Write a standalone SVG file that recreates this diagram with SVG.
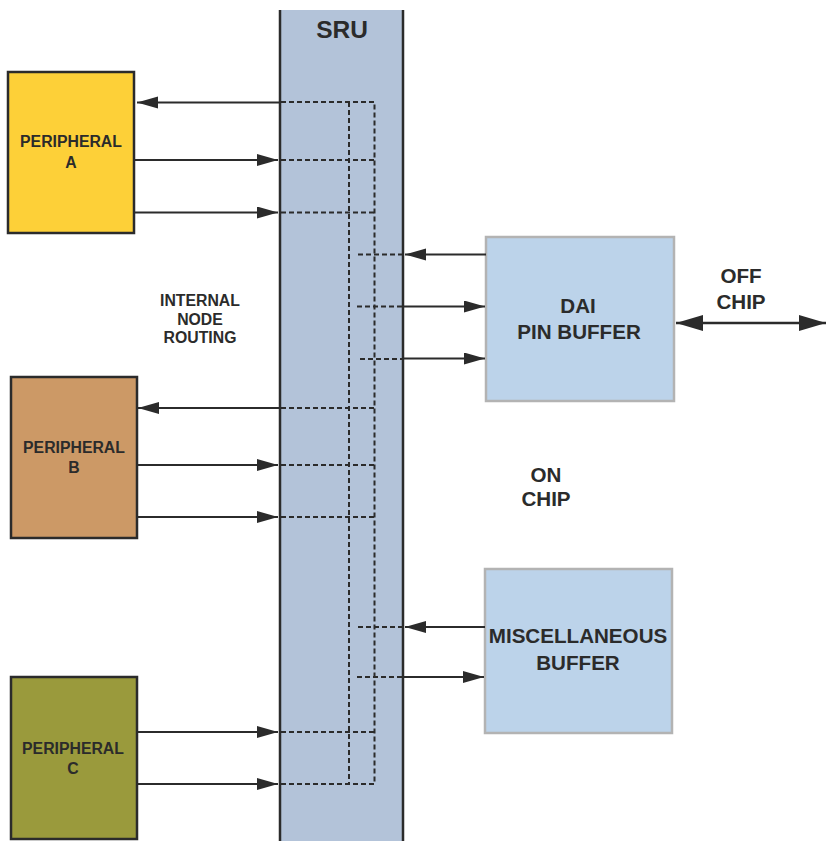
<svg xmlns="http://www.w3.org/2000/svg" width="826" height="841" viewBox="0 0 826 841">
<style>
text{font-family:"Liberation Sans",Arial,sans-serif;font-weight:bold;fill:#2b2b2b;text-anchor:middle}
.pl{font-size:15.8px}
.bl{font-size:20.6px}
.ar{stroke:#2b2b2b;stroke-width:2;fill:none;marker-end:url(#ah)}
.ds{stroke:#2b2b2b;stroke-width:2;fill:none;stroke-dasharray:5 3}
.pbox{stroke:#2b2b2b;stroke-width:2.5}
.bbox{fill:#bcd3ea;stroke:#b3b3b3;stroke-width:2.5}
</style>
<defs>
<marker id="ah" markerUnits="userSpaceOnUse" markerWidth="22" markerHeight="14" refX="21" refY="6" orient="auto">
<path d="M0,0 L21,6 L0,12 Z" fill="#2b2b2b"/>
</marker>
<marker id="ahb" markerUnits="userSpaceOnUse" markerWidth="28" markerHeight="18" refX="27" refY="8" orient="auto-start-reverse">
<path d="M0,0 L27,8 L0,16 Z" fill="#2b2b2b"/>
</marker>
</defs>
<rect width="826" height="841" fill="#ffffff"/>
<g id="sru">
<rect x="280" y="10" width="123" height="831" fill="#b3c3d9"/>
<line x1="280" y1="10" x2="280" y2="841" stroke="#2b2b2b" stroke-width="2.5"/>
<line x1="403" y1="10" x2="403" y2="841" stroke="#2b2b2b" stroke-width="2.5"/>
<text x="342" y="38" style="font-size:24.5px">SRU</text>
</g>
<g id="peripheral-a">
<rect class="pbox" x="8" y="72" width="126" height="161" fill="#fdd038"/>
<text class="pl" x="71" y="147">PERIPHERAL</text>
<text class="pl" x="71" y="168">A</text>
</g>
<g id="peripheral-b">
<rect class="pbox" x="11" y="377" width="126" height="161" fill="#cc9966"/>
<text class="pl" x="74" y="453">PERIPHERAL</text>
<text class="pl" x="74" y="473">B</text>
</g>
<g id="peripheral-c">
<rect class="pbox" x="11" y="677" width="126" height="162" fill="#9a9a3c"/>
<text class="pl" x="73" y="754">PERIPHERAL</text>
<text class="pl" x="73" y="774">C</text>
</g>
<g id="dai-pin-buffer">
<rect class="bbox" x="486" y="237" width="188" height="164"/>
<text class="bl" x="578" y="313">DAI</text>
<text class="bl" x="579" y="339">PIN BUFFER</text>
</g>
<g id="misc-buffer">
<rect class="bbox" x="485" y="569" width="187" height="164"/>
<text class="bl" x="578" y="643">MISCELLANEOUS</text>
<text class="bl" x="578" y="670">BUFFER</text>
</g>
<g id="labels">
<text class="pl" x="200" y="306">INTERNAL</text>
<text class="pl" x="200" y="325">NODE</text>
<text class="pl" x="200" y="343">ROUTING</text>
<text class="bl" x="741" y="283">OFF</text>
<text class="bl" x="741" y="309">CHIP</text>
<text class="bl" x="546" y="482">ON</text>
<text class="bl" x="546" y="506">CHIP</text>
</g>
<g id="connectors">
<line class="ar" x1="280" y1="102.5" x2="137" y2="102.5"/>
<line class="ar" x1="134" y1="160" x2="278" y2="160"/>
<line class="ar" x1="134" y1="212.5" x2="278" y2="212.5"/>
<line class="ar" x1="280" y1="408" x2="138" y2="408"/>
<line class="ar" x1="137" y1="465" x2="278" y2="465"/>
<line class="ar" x1="137" y1="517" x2="278" y2="517"/>
<line class="ar" x1="137" y1="732" x2="278" y2="732"/>
<line class="ar" x1="137" y1="784" x2="278" y2="784"/>
<line class="ar" x1="486" y1="254.5" x2="405" y2="254.5"/>
<line class="ar" x1="403" y1="306.5" x2="485" y2="306.5"/>
<line class="ar" x1="403" y1="358.5" x2="485" y2="358.5"/>
<line class="ar" x1="485" y1="627" x2="405" y2="627"/>
<line class="ar" x1="403" y1="677" x2="484" y2="677"/>
<line x1="676" y1="323" x2="826" y2="323" stroke="#2b2b2b" stroke-width="2.5" marker-start="url(#ahb)" marker-end="url(#ahb)"/>
<path class="ds" d="M281,102 H374.5 V784 M349,102 V784"/>
<path class="ds" d="M281,160 H374.5 M281,212.5 H374.5 M281,408 H374.5 M281,465 H374.5 M281,517 H374.5 M281,732 H374.5 M281,784 H374.5"/>
<path class="ds" d="M358,254.5 H403 M357,306.5 H403 M360,359 H403 M358,627 H403 M357,677 H403"/>
</g>
</svg>
